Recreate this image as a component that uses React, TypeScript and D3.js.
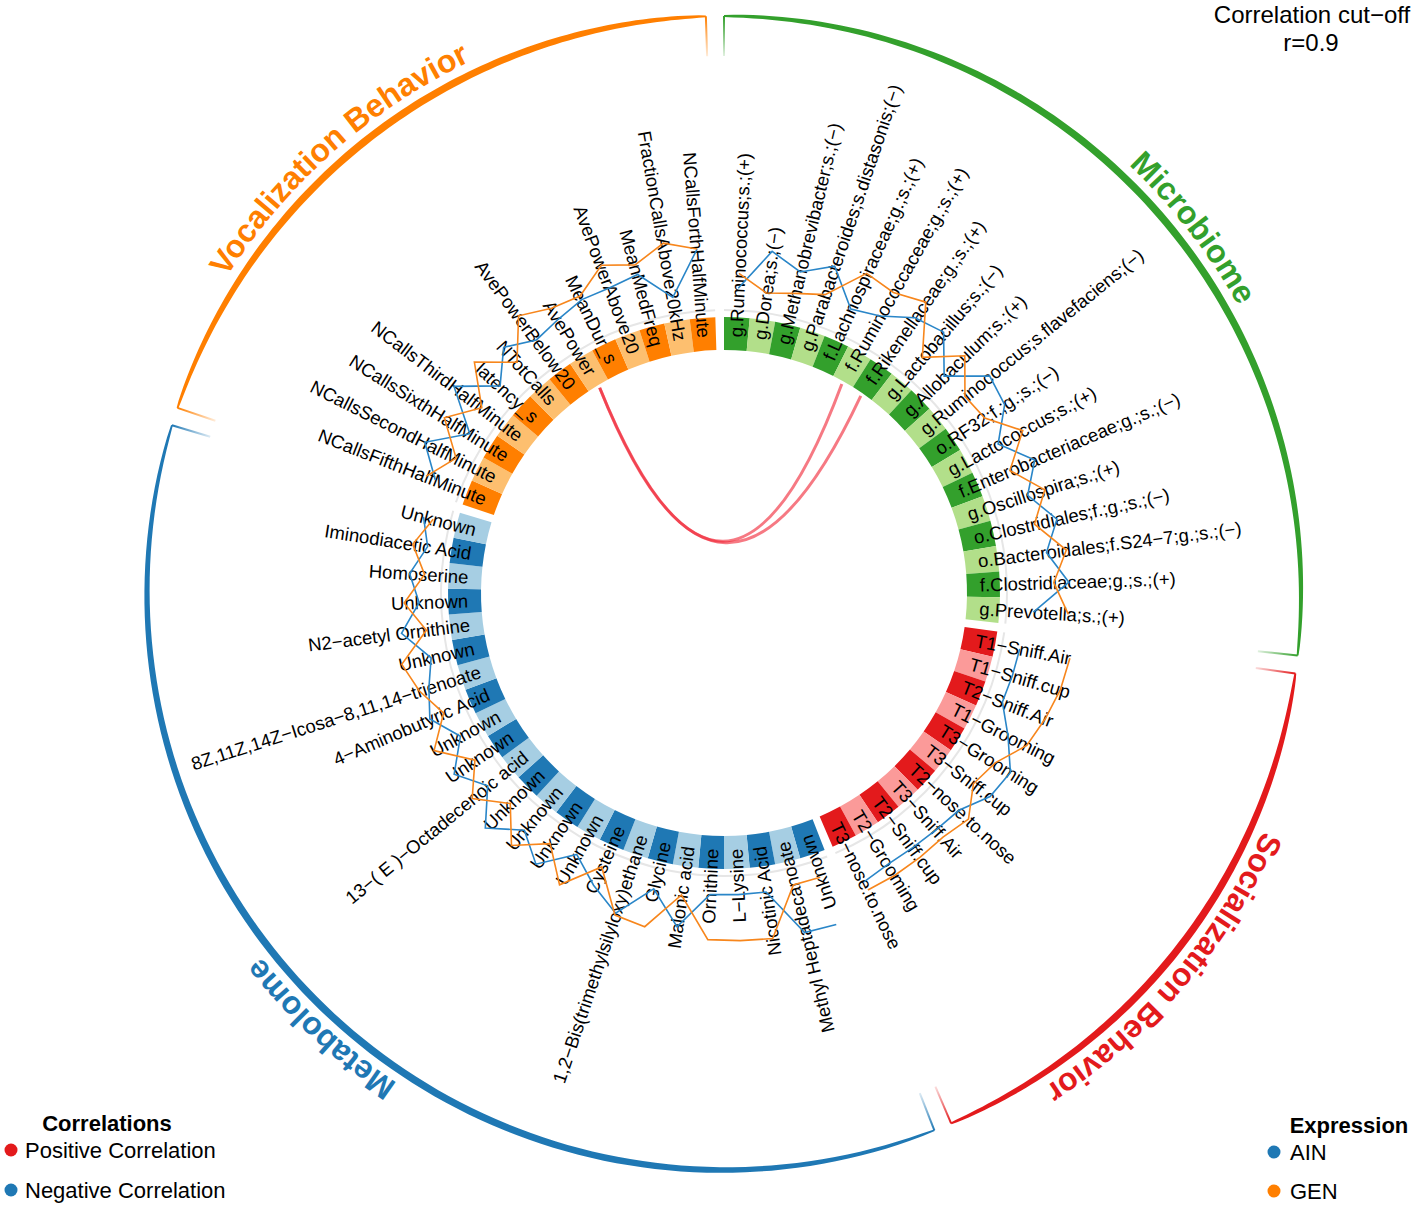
import React from 'react';
import * as d3 from 'd3';

// ---------------- DATA ----------------
const microbiomeLabels = [
  'g.Ruminococcus;s.;(+)',
  'g.Dorea;s.;(−)',
  'g.Methanobrevibacter;s.;(−)',
  'g.Parabacteroides;s.distasonis;(−)',
  'f.Lachnospiraceae;g.;s.;(+)',
  'f.Ruminococcaceae;g.;s.;(+)',
  'f.Rikenellaceae;g.;s.;(+)',
  'g.Lactobacillus;s.;(−)',
  'g.Allobaculum;s.;(+)',
  'g.Ruminococcus;s.flavefaciens;(−)',
  'o.RF32;f.;g.;s.;(−)',
  'g.Lactococcus;s.;(+)',
  'f.Enterobacteriaceae;g.;s.;(−)',
  'g.Oscillospira;s.;(+)',
  'o.Clostridiales;f.;g.;s.;(−)',
  'o.Bacteroidales;f.S24−7;g.;s.;(−)',
  'f.Clostridiaceae;g.;s.;(+)',
  'g.Prevotella;s.;(+)',
];
const socializationLabels = [
  'T1−Sniff.Air', 'T1−Sniff.cup', 'T2−Sniff.Air', 'T1−Grooming', 'T3−Grooming', 'T3−Sniff.cup',
  'T2−nose.to.nose', 'T3−Sniff.Air', 'T2−Sniff.cup', 'T2−Grooming', 'T3−nose.to.nose',
];
const metabolomeLabels = [
  'Unknown', 'Methyl Heptadecanoate', 'Nicotinic Acid', 'L−Lysine', 'Ornithine', 'Malonic acid',
  'Glycine', '1,2−Bis(trimethylsilyloxy)ethane', 'Cysteine', 'Unknown', 'Unknown', 'Unknown',
  'Unknown', '13−( E )−Octadecenoic acid', 'Unknown', 'Unknown', '4−Aminobutyric Acid',
  '8Z,11Z,14Z−Icosa−8,11,14−trienoate', 'Unknown', 'N2−acetyl Ornithine', 'Unknown', 'Homoserine',
  'Iminodiacetic Acid', 'Unknown',
];
const vocalizationLabels = [
  'NCallsFifthHalfMinute', 'NCallsSecondHalfMinute', 'NCallsSixthHalfMinute', 'NCallsThirdHalfMinute',
  'latency_s', 'NTotCalls', 'AvePowerBelow20', 'AvePower', 'MeanDur_s', 'AvePowerAbove20',
  'MeanMedFreq', 'FractionCallsAbove20kHz', 'NCallsForthHalfMinute',
];

// Expression track values (AIN = blue, GEN = orange), 0..70
const microbiomeAIN = [15, 55, 40, 55, 21, 28, 45, 51, 19, 53, 48, 22, 48, 29, 51, 35, 55, 20];
const microbiomeGEN = [30, 13, 18, 25, 60, 55, 64, 18, 48, 21, 24, 50, 21, 47, 28, 55, 40, 55];
const socializationAIN = [11, 10, 9, 28, 48, 45, 30, 28, 27, 27, 31];
const socializationGEN = [62, 60, 55, 49, 30, 24, 43, 38, 39, 40, 40];
const metabolomeAIN = [60, 59, 12, 12, 12, 47, 14, 48, 30, 10, 40, 20, 45, 15, 35, 10, 30, 20, 10, 35, 15, 25, 10, 20];
const metabolomeGEN = [10, 10, 59, 58, 57, 15, 53, 50, 10, 45, 15, 40, 10, 35, 10, 40, 15, 30, 40, 10, 30, 10, 25, 10];
const vocalizationAIN = [20, 45, 10, 50, 15, 40, 25, 30, 36, 36, 40, 10, 55];
const vocalizationGEN = [30, 10, 40, 15, 50, 20, 55, 43, 40, 60, 50, 65, 55];

const sectorNames = ['Microbiome', 'Socialization Behavior', 'Metabolome', 'Vocalization Behavior'];
const sectorLabels = [microbiomeLabels, socializationLabels, metabolomeLabels, vocalizationLabels];
const sectorAIN = [microbiomeAIN, socializationAIN, metabolomeAIN, vocalizationAIN];
const sectorGEN = [microbiomeGEN, socializationGEN, metabolomeGEN, vocalizationGEN];
const sectorDark = ['#33a02c', '#e31a1c', '#1f78b4', '#ff7f00'];
const sectorLight = ['#b2df8a', '#fb9a99', '#a6cee3', '#fdbf6f'];

const links = [
  { fromSector: 'Vocalization Behavior', fromLabel: 'AvePower', toSector: 'Microbiome', toLabel: 'f.Ruminococcaceae;g.;s.;(+)' },
  { fromSector: 'Vocalization Behavior', fromLabel: 'AvePower', toSector: 'Microbiome', toLabel: 'f.Rikenellaceae;g.;s.;(+)' },
];

const correlationLegend = [
  { label: 'Positive Correlation', color: '#e31a1c' },
  { label: 'Negative Correlation', color: '#1f78b4' },
];
const expressionLegend = [
  { label: 'AIN', color: '#1f78b4' },
  { label: 'GEN', color: '#ff7f00' },
];

// ---------------- LAYOUT ----------------
const W = 1418;
const H = 1207;
const CX = 724;
const CY = 593;
const GAP = 1.8;
const RING_IN = 243;
const RING_OUT = 276;
const GREY_R = 283;
const LABEL_R = 256;
const LINK_R = 240;
const OUTER_R = 577;
const TICK_LEN = 40;
const GROUP_TEXT_R = 589;
const GROUP_TEXT_SHIFT = [4, 3, 0, -5]; // degrees, offset of the group title from the sector middle
const FONT = "'Liberation Sans', Arial, Helvetica, sans-serif";

const rad = (deg: number) => (deg * Math.PI) / 180;
const polar = (deg: number, r: number): [number, number] => [r * Math.sin(rad(deg)), -r * Math.cos(rad(deg))];

const totalItems = d3.sum(sectorLabels, (l) => l.length);
const itemW = (360 - sectorLabels.length * GAP) / totalItems;

type Sector = { name: string; a0: number; a1: number; n: number; k: number };
const sectors: Sector[] = [];
{
  let s = 0;
  sectorLabels.forEach((labs, k) => {
    const a0 = s;
    const a1 = s + labs.length * itemW;
    sectors.push({ name: sectorNames[k], a0, a1, n: labs.length, k });
    s = a1 + GAP;
  });
}

const rScale = d3.scaleLinear().domain([0, 70]).range([290, 360]);

function itemAngle(sectorName: string, label: string) {
  const k = sectorNames.indexOf(sectorName);
  const i = sectorLabels[k].indexOf(label);
  return sectors[k].a0 + (i + 0.5) * itemW;
}

export default function App() {
  const arcGen = d3.arc<any>();
  const lineGen = d3
    .lineRadial<{ a: number; v: number }>()
    .angle((d) => rad(d.a))
    .radius((d) => rScale(d.v));
  const areaGen = d3
    .areaRadial<{ a: number; th: number }>()
    .angle((d) => rad(d.a))
    .innerRadius((d) => OUTER_R - d.th / 2)
    .outerRadius((d) => OUTER_R + d.th / 2);

  const segs: JSX.Element[] = [];
  const labels: JSX.Element[] = [];
  const lines: JSX.Element[] = [];
  const greys: JSX.Element[] = [];
  const outer: JSX.Element[] = [];
  const grads: JSX.Element[] = [];
  const groupPaths: JSX.Element[] = [];
  const groupTexts: JSX.Element[] = [];

  sectors.forEach((sec) => {
    const k = sec.k;
    const mid = (sec.a0 + sec.a1) / 2;
    const flip = mid > 180;
    sectorLabels[k].forEach((lab, i) => {
      const s0 = sec.a0 + i * itemW;
      const s1 = s0 + itemW;
      segs.push(
        <path
          key={`seg-${k}-${i}`}
          d={arcGen({ innerRadius: RING_IN, outerRadius: RING_OUT, startAngle: rad(s0), endAngle: rad(s1) }) || ''}
          fill={i % 2 === 0 ? sectorDark[k] : sectorLight[k]}
        />
      );
      const a = s0 + itemW / 2;
      const rot = a - 90;
      labels.push(
        <text
          key={`lab-${k}-${i}`}
          transform={flip ? `rotate(${rot}) translate(${LABEL_R},0) rotate(180)` : `rotate(${rot}) translate(${LABEL_R},0)`}
          textAnchor={flip ? 'end' : 'start'}
          dominantBaseline="central"
          fontSize={18.5}
          fill="#000"
        >
          {lab}
        </text>
      );
    });
    greys.push(
      <path
        key={`grey-${k}`}
        d={arcGen({ innerRadius: GREY_R - 1, outerRadius: GREY_R + 1, startAngle: rad(sec.a0), endAngle: rad(sec.a1) }) || ''}
        fill="#e6e6e6"
      />
    );
    const ain = sectorAIN[k].map((v, i) => ({ a: sec.a0 + (i + 0.5) * itemW, v }));
    const gen = sectorGEN[k].map((v, i) => ({ a: sec.a0 + (i + 0.5) * itemW, v }));
    lines.push(<path key={`ain-${k}`} d={lineGen(ain) || ''} fill="none" stroke="#2a86c8" strokeWidth={1.6} />);
    lines.push(<path key={`gen-${k}`} d={lineGen(gen) || ''} fill="none" stroke="#f7861c" strokeWidth={1.6} />);

    // outer tapered arc
    const pts = d3.range(0, 1.0001, 0.01).map((u) => ({
      a: sec.a0 + u * (sec.a1 - sec.a0),
      th: 1.8 + 5.6 * Math.pow(Math.sin(Math.PI * u), 0.55),
    }));
    outer.push(<path key={`outer-${k}`} d={areaGen(pts) || ''} fill={sectorDark[k]} />);
    [sec.a0, sec.a1].forEach((a, j) => {
      const [x1, y1] = polar(a, OUTER_R);
      const [x2, y2] = polar(a, OUTER_R - TICK_LEN);
      const id = `tick-${k}-${j}`;
      grads.push(
        <linearGradient key={id} id={id} gradientUnits="userSpaceOnUse" x1={x1} y1={y1} x2={x2} y2={y2}>
          <stop offset="0" stopColor={sectorDark[k]} stopOpacity={1} />
          <stop offset="1" stopColor={sectorDark[k]} stopOpacity={0.15} />
        </linearGradient>
      );
      outer.push(<line key={`tl-${id}`} x1={x1} y1={y1} x2={x2} y2={y2} stroke={`url(#${id})`} strokeWidth={2} />);
    });

    // group label path
    const gmid = mid + GROUP_TEXT_SHIFT[k];
    const pa = gmid - 70;
    const pb = gmid + 70;
    const [px0, py0] = polar(pa, GROUP_TEXT_R);
    const [px1, py1] = polar(pb, GROUP_TEXT_R);
    const pid = `gp-${k}`;
    groupPaths.push(
      <path
        key={pid}
        id={pid}
        d={`M ${px0 + CX} ${py0 + CY} A ${GROUP_TEXT_R} ${GROUP_TEXT_R} 0 0 1 ${px1 + CX} ${py1 + CY}`}
        fill="none"
      />
    );
    groupTexts.push(
      <text key={`gt-${k}`} fontSize={32} fontWeight="bold" fill={sectorDark[k]}>
        <textPath href={`#${pid}`} startOffset="50%" textAnchor="middle">
          {sec.name}
        </textPath>
      </text>
    );
  });

  const linkPaths = links.map((l, i) => {
    const a1 = itemAngle(l.fromSector, l.fromLabel);
    const a2 = itemAngle(l.toSector, l.toLabel);
    const [x1, y1] = polar(a1, LINK_R);
    const [x2, y2] = polar(a2, LINK_R);
    const mx = (x1 + x2) / 2;
    const my = (y1 + y2) / 2;
    const cx = mx - 1.5 * mx;
    const cy = my - 1.5 * my;
    const p = d3.path();
    p.moveTo(x1, y1);
    p.quadraticCurveTo(cx, cy, x2, y2);
    return (
      <path key={`link-${i}`} d={p.toString()} fill="none" stroke="#f02030" strokeOpacity={0.6} strokeWidth={3} />
    );
  });

  return (
    <svg
      width={W}
      height={H}
      viewBox={`0 0 ${W} ${H}`}
      style={{ position: 'absolute', left: 0, top: 0, background: '#fff' }}
      fontFamily={FONT}
    >
      <defs>
        {grads}
        {groupPaths}
      </defs>
      <rect x={0} y={0} width={W} height={H} fill="#fff" />
      <g transform={`translate(${CX},${CY})`}>
        {segs}
        {greys}
        {labels}
        {lines}
        {linkPaths}
        {outer}
      </g>
      {groupTexts}

      {/* top-right note */}
      <text x={1312} y={23} fontSize={24} textAnchor="middle" fill="#000">
        Correlation cut−off
      </text>
      <text x={1311} y={51} fontSize={24} textAnchor="middle" fill="#000">
        r=0.9
      </text>

      {/* Correlations legend */}
      <text x={107} y={1131} fontSize={22} fontWeight="bold" textAnchor="middle" fill="#000">
        Correlations
      </text>
      {correlationLegend.map((d, i) => (
        <g key={`cl-${i}`}>
          <circle cx={11} cy={1150 + i * 40} r={6.5} fill={d.color} />
          <text x={25} y={1158 + i * 40} fontSize={22} fill="#000">
            {d.label}
          </text>
        </g>
      ))}

      {/* Expression legend */}
      <text x={1349} y={1133} fontSize={22} fontWeight="bold" textAnchor="middle" fill="#000">
        Expression
      </text>
      {expressionLegend.map((d, i) => (
        <g key={`el-${i}`}>
          <circle cx={1274} cy={1152 + i * 39} r={6.5} fill={d.color} />
          <text x={1290} y={1160 + i * 39} fontSize={22} fill="#000">
            {d.label}
          </text>
        </g>
      ))}
    </svg>
  );
}
